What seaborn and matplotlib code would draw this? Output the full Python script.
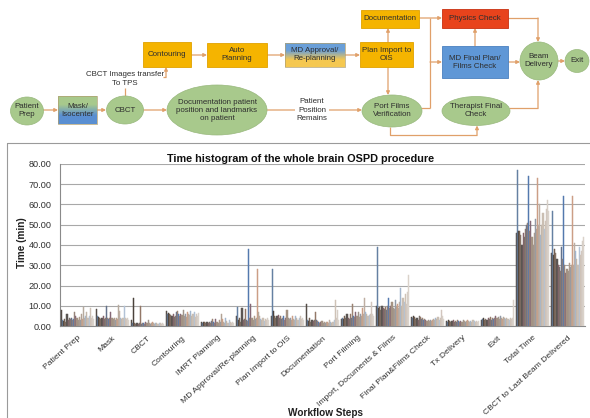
import numpy as np
import pandas as pd
import matplotlib
matplotlib.use("Agg")
import matplotlib.pyplot as plt
from matplotlib.patches import Rectangle, Ellipse
import seaborn as sns

# ---------------- data ----------------
steps = ["Patient Prep", "Mask", "CBCT", "Contouring", "IMRT Planning",
         "MD Approval/Re-planning", "Plan Import to OIS", "Documentation",
         "Port Filming", "Import, Documents & Films", "Final Plan&Films Check",
         "Tx Delivery", "Exit", "Total Time", "CBCT to Last Beam Delivered"]

patient_prep = [8, 3, 2.5, 3.5, 2, 6, 3, 4, 3.5, 4, 3, 3.5, 7, 5, 4, 3, 4.5, 3, 6, 3.5, 9.5, 4, 5, 7, 4, 5, 9, 4, 5, 3.5]
mask = [8.5, 5, 4.5, 4, 3.5, 4, 5, 3.5, 4, 10, 4, 3.5, 4, 7, 4, 3.5, 4, 3, 4, 3.5, 10.5, 7.5, 4, 3.5, 4, 10, 4, 3.5, 4, 3]
cbct = [3, 1.5, 14, 1.5, 1.2, 1.5, 1.2, 1.5, 10, 1.2, 1.5, 1.5, 1.2, 2, 1.5, 3, 1.5, 1.2, 1.5, 2, 1.5, 1.2, 1.5, 1.5, 1.2, 1.5, 1.5, 1.2, 1.5, 1.2]
contouring = [7.5, 6, 6.5, 6, 5.5, 5, 6, 4.5, 5, 7, 7.5, 6, 5, 6, 5.5, 8, 5, 6, 4.5, 7, 6, 5.5, 7.5, 5, 6, 7, 4.5, 6, 5, 6.5]
imrt_planning = [2, 1.5, 2, 1.8, 1.5, 2, 1.5, 2, 1.5, 2.5, 3.5, 2, 1.5, 3.5, 2, 1.5, 3, 2, 6, 3.5, 2, 1.5, 4, 2.5, 1.5, 3, 2, 1.5, 2, 1.5]
md_approval = [5, 9.5, 3, 4, 2, 9, 3, 3.5, 8.5, 3, 2.5, 38, 4, 11, 4, 3, 5, 3.5, 4, 28, 7, 5, 3.5, 3, 4, 2.5, 3.5, 3, 4, 3]
plan_import = [5, 28, 7.5, 5, 4, 5, 5.5, 4, 5, 3.5, 4, 5, 3, 4, 8, 4, 3.5, 4, 3, 5, 3.5, 3, 5, 4, 3, 4, 5, 3.5, 4, 3]
documentation = [11, 3, 2.5, 4, 2, 3, 2.5, 3, 7, 3, 2.5, 2, 1.5, 2, 2.5, 1.5, 2, 1.5, 2, 2, 1.5, 3, 2, 1.5, 2, 3, 13, 4, 8, 3]
port_filming = [3.5, 4, 3.5, 5, 4, 6, 4, 3.5, 6, 4, 11, 5, 4.5, 7, 5, 7, 4.5, 6, 5, 9, 6, 14, 7, 6, 5, 5.5, 6, 12, 6, 5]
import_docs_films = [10, 39, 9, 9.5, 8, 10, 9, 8.5, 9.5, 8, 10, 14, 9, 10, 12, 9, 8.5, 13, 10, 11, 9, 12, 19, 10, 14, 12, 16, 11, 17, 25]
final_plan_check = [4.5, 4, 5, 4.5, 3.5, 4, 3, 5, 4.5, 3.5, 4, 3, 3.5, 3, 2.5, 3, 2.5, 3, 2.5, 3, 3.5, 3, 4, 3.5, 4.5, 3, 4, 8, 5, 3.5]
tx_delivery = [2.5, 2, 3, 2.5, 2, 2.5, 3, 2, 2.5, 2, 3, 2.5, 2, 2.5, 2, 3, 2.5, 2, 2.5, 3, 2.5, 2, 2.5, 2, 3, 2.5, 2, 2.5, 2, 2.5]
exit_step = [3, 3.5, 4, 3, 3.5, 3, 4, 3.5, 4.5, 3, 4, 3.5, 4, 5, 4, 4.5, 3.5, 5, 4, 3.5, 4.5, 4, 3.5, 4, 3.5, 3, 4, 3.5, 4, 13]
total_time = [46, 77, 47, 47, 45, 40, 46, 44, 48, 50, 51, 74, 47, 52, 44, 40, 46, 53, 48, 73, 50, 60, 45, 50, 56, 48, 52, 58, 62, 57]
cbct_to_last = [36, 57, 35, 38, 36, 33, 30, 29, 27, 39, 33, 64, 30, 26, 28, 27, 31, 29, 30, 64, 30, 41, 37, 33, 30, 39, 35, 37, 42, 44]

step_values = [patient_prep, mask, cbct, contouring, imrt_planning, md_approval,
               plan_import, documentation, port_filming, import_docs_films,
               final_plan_check, tx_delivery, exit_step, total_time, cbct_to_last]

series_colors = ["#544c46", "#6580a2", "#4a423c", "#735f52", "#857264", "#5a5552",
                 "#84636a", "#766e6a", "#937868", "#64728a", "#9a8272", "#5479ae",
                 "#96847a", "#866876", "#a49282", "#9f948a", "#ae9a8a", "#929aa6",
                 "#b2a294", "#cc9e86", "#b6aa9e", "#beaea2", "#a2b6ce", "#c2b6aa",
                 "#cabeb2", "#b2c2d6", "#cec2b6", "#d2c6be", "#d6cec6", "#dad2ca"]

rows = []
for s, vals in zip(steps, step_values):
    for i, v in enumerate(vals):
        rows.append({"step": s, "patient": f"P{i+1}", "time": v})
df = pd.DataFrame(rows)

# ---------------- figure ----------------
sns.set_style("white")
plt.rcParams["font.family"] = ["Liberation Sans", "DejaVu Sans"]

W, H = 590, 418
fig = plt.figure(figsize=(W / 100, H / 100), dpi=100)

# flowchart / background axes in pixel coordinates
fa = fig.add_axes([0, 0, 1, 1])
fa.set_xlim(0, W)
fa.set_ylim(H, 0)
fa.axis("off")

YEL = "#f5b400"
YEL_E = "#e0a200"
RED = "#e8431c"
BLUE = "#5f97d6"
GRN = "#a8c98c"
GRN_E = "#98b87c"
ARR = "#e0a06a"
TXT = "#2e2e2e"
FS = 5.7

def box(x0, x1, y0, y1, color, edge, label):
    fa.add_patch(Rectangle((x0, y0), x1 - x0, y1 - y0, facecolor=color,
                           edgecolor=edge, lw=0.6, zorder=2))
    fa.text((x0 + x1) / 2, (y0 + y1) / 2, label, ha="center", va="center",
            fontsize=FS, color=TXT, zorder=4, linespacing=1.2)

def gbox(x0, x1, y0, y1, ctop, cbot, label):
    ct = np.array(matplotlib.colors.to_rgb(ctop))
    cb = np.array(matplotlib.colors.to_rgb(cbot))
    t = np.linspace(0, 1, 40)[:, None]
    t = np.clip((t - 0.3) / 0.4, 0, 1)
    img = (ct[None, :] * (1 - t) + cb[None, :] * t)[:, None, :]
    fa.imshow(img, extent=[x0, x1, y1, y0], aspect="auto",
              interpolation="bilinear", zorder=2)
    fa.add_patch(Rectangle((x0, y0), x1 - x0, y1 - y0, facecolor="none",
                           edgecolor="#b0a070", lw=0.5, zorder=3))
    fa.text((x0 + x1) / 2, (y0 + y1) / 2, label, ha="center", va="center",
            fontsize=FS, color=TXT, zorder=4, linespacing=1.2)

def ell(cx, cy, w, h, label):
    fa.add_patch(Ellipse((cx, cy), w, h, facecolor=GRN, edgecolor=GRN_E,
                         lw=0.5, zorder=2))
    fa.text(cx, cy, label, ha="center", va="center", fontsize=FS,
            color=TXT, zorder=4, linespacing=1.2)

def arrow(x0, y0, x1, y1):
    fa.annotate("", xy=(x1, y1), xytext=(x0, y0),
                arrowprops=dict(arrowstyle="-|>", color=ARR, lw=0.9,
                                mutation_scale=5, shrinkA=0, shrinkB=0),
                zorder=1)

def line(xs, ys):
    fa.plot(xs, ys, color=ARR, lw=0.9, zorder=1, solid_capstyle="butt")

# nodes
ell(27, 111, 33, 28, "Patient\nPrep")
gbox(58, 97, 96, 124, GRN, "#5a8fd2", "Mask/\nIsocenter")
ell(125, 110, 37, 28, "CBCT")
ell(217, 110, 100, 50, "Documentation patient\nposition and landmarks\non patient")
ell(392, 111, 60, 32, "Port Films\nVerification")
ell(476, 111, 68, 29, "Therapist Final\nCheck")
ell(539, 61, 38, 38, "Beam\nDelivery")
ell(577, 61, 24, 23, "Exit")
box(143, 191, 42, 67, YEL, YEL_E, "Contouring")
box(207, 267, 43, 67, YEL, YEL_E, "Auto\nPlanning")
gbox(285, 345, 43, 67, "#6a9fd8", "#f5c850", "MD Approval/\nRe-planning")
box(360, 413, 42, 67, YEL, YEL_E, "Plan Import to\nOIS")
box(361, 419, 10, 28, YEL, YEL_E, "Documentation")
box(442, 508, 9, 28, RED, "#c83010", "Physics Check")
box(442, 508, 46, 78, BLUE, "#4a80c0", "MD Final Plan/\nFilms Check")

fa.text(125, 79, "CBCT Images transfer\nTo TPS", ha="center", va="center",
        fontsize=FS, color=TXT, zorder=4, linespacing=1.25)
fa.text(312, 110, "Patient\nPosition\nRemains", ha="center", va="center",
        fontsize=FS, color=TXT, zorder=4, linespacing=1.3,
        bbox=dict(facecolor="white", edgecolor="none", pad=1.0))

# connectors
arrow(43, 110, 58, 110)
arrow(97, 110, 106, 110)
arrow(143, 110, 167, 110)
arrow(267, 110, 362, 110)
line([125, 125], [96, 88])
line([163, 166], [77, 77])
arrow(166, 77, 166, 67)
arrow(191, 55, 207, 55)
arrow(267, 55, 285, 55)
arrow(345, 55, 360, 55)
arrow(388, 42, 388, 28)
arrow(388, 67, 388, 95)
arrow(419, 18, 442, 18)
line([430, 430], [18, 108])
line([421, 430], [108, 108])
arrow(430, 62, 442, 62)
arrow(475, 46, 475, 28)
line([508, 538], [18, 18])
arrow(538, 18, 538, 42)
arrow(508, 62, 520, 62)
line([509, 538], [108, 108])
arrow(538, 108, 538, 80)
line([390, 390, 477], [127, 135, 135])
arrow(477, 135, 477, 125.5)
arrow(558, 61, 565, 61)

# chart panel border
fa.add_patch(Rectangle((7, 143), 600, 300, facecolor="none",
                       edgecolor="#9a9a9a", lw=0.8, zorder=0, clip_on=False))

fa.set_xlim(0, W)
fa.set_ylim(H, 0)

# ---------------- bar chart ----------------
ax = fig.add_axes([60 / W, (H - 326) / H, 525 / W, 162 / H])
sns.barplot(data=df, x="step", y="time", hue="patient", palette=series_colors,
            width=0.95, saturation=1, errorbar=None, linewidth=0,
            legend=False, ax=ax, zorder=3)
for p in ax.patches:
    p.set_edgecolor(p.get_facecolor())
    p.set_linewidth(0.35)
ax.set_xlim(-0.5, len(steps) - 0.5)
ax.set_ylim(0, 80)
ax.set_yticks(np.arange(0, 81, 10))
ax.set_yticklabels([f"{v:.2f}" for v in np.arange(0, 81, 10)],
                   fontsize=6.6, color="#303030")
ax.yaxis.grid(True, color="#a8a8a8", lw=0.8, zorder=0)
ax.set_axisbelow(True)
for sp in ["top", "right"]:
    ax.spines[sp].set_visible(False)
for sp in ["left", "bottom"]:
    ax.spines[sp].set_color("#8a8a8a")
    ax.spines[sp].set_linewidth(0.8)
ax.tick_params(axis="y", length=4, width=0.8, color="#8a8a8a", pad=2)
ax.set_xticks(np.arange(len(steps)))
ax.set_xticklabels(steps, rotation=42, ha="right", rotation_mode="anchor",
                   fontsize=6.1, color="#303030")
ax.tick_params(axis="x", which="major", length=0, pad=6)
ax.set_xticks(np.arange(-0.5, len(steps), 1), minor=True)
ax.tick_params(axis="x", which="minor", length=3, width=0.8, color="#8a8a8a")
ax.set_xlabel("")
ax.set_ylabel("")

fig.text(22 / W, 1 - 243 / H, "Time (min)", rotation=90, ha="center",
         va="center", fontsize=7.2, fontweight="bold", color="#202020")
fig.text(325 / W, 1 - 417.5 / H, "Workflow Steps", ha="center", va="bottom",
         fontsize=7.2, fontweight="bold", color="#202020")
fig.text(301 / W, 1 - 159 / H, "Time histogram of the whole brain OSPD procedure",
         ha="center", va="center", fontsize=7.8, fontweight="bold",
         color="#101010")

fig.savefig("out.png", dpi=100)
